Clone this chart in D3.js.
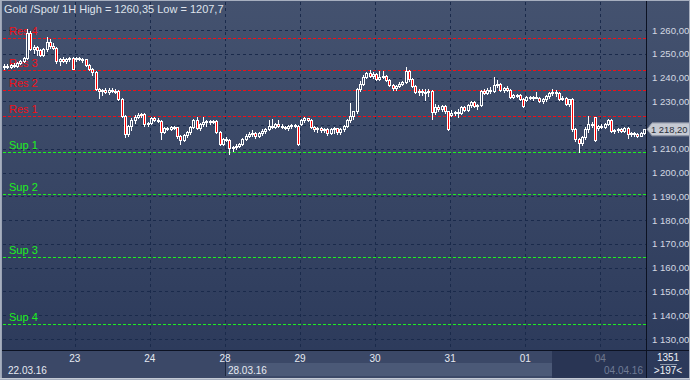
<!DOCTYPE html>
<html><head><meta charset="utf-8">
<script src="https://cdn.jsdelivr.net/npm/d3@7"></script>
<style>html,body{margin:0;padding:0;background:#2f3d5c;overflow:hidden}</style>
</head><body><svg id="c" width="690" height="380"></svg>
<script>
const title = "Gold /Spot/  1H High = 1260,35 Low = 1207,7";
const days = ["22","23","24","28","29","30","31","01","04"];
const dayStart = [0,22,45,68,91,114,137,160,183];
const bottomDates = ["22.03.16","28.03.16","04.04.16"];
const bottomDateStart = [0,68,183];
const priceTicks = [1260,1250,1240,1230,1220,1210,1200,1190,1180,1170,1160,1150,1140,1130];
const levelNames = ["Res 4","Res 3","Res 2","Res 1","Sup 1","Sup 2","Sup 3","Sup 4"];
const levelValues = [1256.5,1243.0,1234.6,1223.7,1208.5,1190.9,1164.4,1136.2];
const lastPrice = 1218.20;
const barCountTotal = "1351";
const barCountVisible = ">197<";
// [open, high, low, close] per 1H candle
const ohlc = [
[1244.6,1245.6,1243.8,1245.0],[1245.0,1245.9,1244.0,1244.4],[1244.4,1245.7,1243.9,1245.2],[1245.2,1246.0,1244.4,1244.9],
[1244.9,1246.6,1244.4,1246.2],[1246.2,1247.4,1245.6,1247.0],[1247.0,1248.8,1246.6,1248.4],[1248.4,1260.35,1248.0,1258.6],
[1258.6,1259.4,1251.6,1252.2],[1252.2,1253.6,1250.2,1252.8],[1252.8,1253.4,1249.6,1251.6],[1251.6,1252.0,1249.0,1249.6],
[1249.6,1252.4,1249.2,1251.8],[1251.8,1257.0,1251.2,1254.8],[1254.8,1256.2,1252.6,1253.4],[1253.4,1254.6,1252.0,1252.6],
[1252.6,1253.0,1246.2,1246.8],[1246.8,1248.4,1245.4,1247.8],[1247.8,1248.6,1246.4,1246.9],[1246.9,1248.2,1246.2,1247.6],
[1247.6,1248.8,1246.8,1248.2],[1248.2,1248.6,1243.4,1243.8],
[1247.6,1248.6,1247.0,1248.2],[1248.2,1248.8,1247.2,1247.6],[1247.6,1248.4,1246.6,1247.8],[1247.8,1248.0,1245.0,1245.4],
[1245.4,1245.8,1243.2,1243.6],[1243.6,1244.0,1241.0,1242.2],[1242.2,1242.7,1234.6,1235.0],[1235.0,1235.8,1231.4,1234.2],
[1234.2,1235.3,1232.8,1234.8],[1234.8,1235.6,1233.4,1234.0],[1234.0,1235.4,1233.0,1234.8],[1234.8,1235.4,1233.8,1234.4],
[1234.4,1235.0,1233.6,1234.2],[1234.2,1234.6,1230.6,1231.0],[1231.0,1231.2,1223.4,1224.0],[1224.0,1224.4,1215.0,1216.4],
[1216.4,1220.0,1215.2,1219.6],[1219.6,1222.8,1218.0,1222.2],[1222.2,1224.2,1220.8,1223.6],[1223.6,1225.0,1223.0,1224.4],
[1224.4,1225.2,1223.6,1224.8],[1224.8,1225.0,1219.8,1220.4],[1220.4,1221.2,1219.6,1220.8],
[1220.8,1223.4,1220.4,1222.8],[1222.8,1223.6,1221.6,1222.2],[1222.2,1223.0,1221.2,1221.8],[1221.8,1222.0,1214.3,1217.2],
[1217.2,1219.2,1216.6,1218.6],[1218.6,1219.0,1217.8,1218.2],[1218.2,1219.8,1217.8,1219.4],[1219.4,1219.8,1218.4,1219.0],
[1219.0,1219.4,1214.6,1215.2],[1215.2,1215.8,1212.2,1213.8],[1213.8,1216.4,1213.2,1215.8],[1215.8,1217.4,1215.0,1217.0],
[1217.0,1219.8,1216.4,1219.2],[1219.2,1222.6,1218.6,1222.0],[1222.0,1223.4,1218.2,1218.6],[1218.6,1221.0,1218.0,1220.6],
[1220.6,1223.4,1219.6,1221.2],[1221.2,1222.0,1219.8,1221.6],[1221.6,1222.0,1220.6,1221.4],[1221.4,1222.2,1220.8,1221.6],
[1221.6,1222.0,1216.6,1217.2],[1217.2,1217.6,1211.8,1212.2],[1212.2,1214.6,1211.6,1214.0],
[1214.0,1214.8,1213.2,1213.8],[1213.8,1214.2,1207.7,1210.2],[1210.2,1211.0,1209.2,1210.6],[1210.6,1212.0,1210.0,1211.4],
[1211.4,1212.6,1210.8,1212.2],[1212.2,1214.6,1211.6,1214.2],[1214.2,1216.2,1213.6,1215.6],[1215.6,1217.0,1214.8,1216.4],
[1216.4,1218.0,1215.6,1216.8],[1216.8,1217.2,1214.6,1215.2],[1215.2,1217.2,1214.8,1216.8],[1216.8,1218.2,1216.0,1217.6],
[1217.6,1218.8,1216.8,1218.4],[1218.4,1222.2,1217.8,1219.8],[1219.8,1222.6,1218.8,1219.4],[1219.4,1220.8,1218.6,1220.4],
[1220.4,1222.0,1219.4,1219.8],[1219.8,1220.6,1218.8,1219.4],[1219.4,1219.6,1218.2,1218.6],[1218.6,1220.2,1218.0,1219.6],
[1219.6,1220.4,1218.8,1220.0],[1220.0,1220.6,1219.2,1219.8],[1219.8,1220.2,1211.6,1212.0],
[1220.6,1222.4,1220.2,1222.0],[1222.0,1223.2,1221.4,1222.8],[1222.8,1223.0,1221.6,1222.0],[1222.0,1222.4,1218.6,1219.0],
[1219.0,1219.6,1217.6,1218.2],[1218.2,1219.0,1217.2,1218.6],[1218.6,1219.2,1217.2,1217.8],[1217.8,1218.8,1217.0,1218.4],
[1218.4,1218.8,1215.8,1216.8],[1216.8,1218.6,1216.2,1218.2],[1218.2,1219.4,1216.6,1218.6],[1218.6,1218.8,1216.2,1217.0],
[1217.0,1218.6,1216.4,1218.2],[1218.2,1220.0,1217.6,1219.6],[1219.6,1222.6,1219.0,1222.2],[1222.2,1229.3,1221.4,1224.0],
[1224.0,1226.0,1222.6,1225.8],[1225.8,1235.8,1225.2,1235.2],[1235.2,1238.4,1234.2,1237.4],[1237.4,1241.0,1236.8,1240.4],
[1240.4,1242.4,1239.6,1241.8],[1241.8,1243.0,1240.2,1240.6],[1240.6,1242.2,1239.8,1241.6],
[1241.6,1242.0,1239.0,1239.4],[1239.4,1242.6,1239.0,1240.2],[1240.2,1242.8,1239.6,1240.6],[1240.6,1241.0,1238.4,1239.0],
[1239.0,1239.4,1236.6,1237.0],[1237.0,1237.4,1234.8,1235.4],[1235.4,1237.0,1234.8,1236.4],[1236.4,1238.0,1236.0,1237.4],
[1237.4,1238.6,1236.8,1238.2],[1238.2,1244.4,1237.8,1242.6],[1242.6,1243.2,1238.6,1239.2],[1239.2,1239.8,1236.0,1236.6],
[1236.6,1237.0,1233.4,1233.8],[1233.8,1235.2,1232.8,1234.4],[1234.4,1235.2,1232.6,1233.8],[1233.8,1235.0,1230.6,1234.0],
[1234.0,1235.0,1232.4,1234.4],[1234.4,1234.8,1222.7,1225.6],[1225.6,1229.0,1224.6,1227.8],[1227.8,1228.4,1225.8,1226.6],
[1226.6,1228.6,1226.0,1228.2],[1228.2,1228.6,1225.2,1225.8],[1225.8,1226.0,1217.8,1218.4],
[1224.4,1226.4,1224.0,1225.2],[1225.2,1226.0,1224.2,1225.6],[1225.6,1226.8,1223.4,1225.2],[1225.2,1228.0,1224.8,1227.6],
[1227.6,1228.0,1225.8,1226.2],[1226.2,1228.8,1225.8,1228.4],[1228.4,1230.2,1227.8,1229.6],[1229.6,1230.0,1227.4,1228.0],
[1228.0,1229.0,1226.6,1228.4],[1228.4,1234.8,1228.0,1234.2],[1234.2,1235.0,1233.0,1233.6],[1233.6,1235.4,1233.0,1234.8],
[1234.8,1236.0,1233.6,1234.4],[1234.4,1240.2,1234.0,1237.0],[1237.0,1238.8,1236.2,1237.4],[1237.4,1237.8,1234.2,1234.6],
[1234.6,1236.2,1233.8,1235.6],[1235.6,1236.4,1234.2,1234.8],[1234.8,1235.2,1231.6,1232.0],[1232.0,1233.0,1231.2,1232.6],
[1232.6,1233.2,1231.8,1232.8],[1232.8,1233.0,1230.6,1231.0],[1231.0,1231.4,1227.6,1228.0],
[1230.6,1232.2,1230.2,1231.8],[1231.8,1232.4,1230.8,1231.2],[1231.2,1232.4,1230.6,1232.0],[1232.0,1234.0,1231.4,1231.6],
[1231.6,1232.0,1229.6,1230.0],[1230.0,1231.2,1229.4,1230.8],[1230.8,1232.6,1230.2,1232.2],[1232.2,1234.0,1231.6,1233.6],
[1233.6,1235.3,1232.8,1234.0],[1234.0,1234.6,1232.4,1233.6],[1233.6,1234.0,1230.6,1231.0],[1231.0,1232.2,1230.4,1231.6],
[1231.6,1232.0,1228.4,1228.8],[1228.8,1231.0,1228.2,1230.8],[1230.8,1231.2,1217.6,1218.2],[1218.2,1218.6,1213.4,1214.0],
[1214.0,1214.4,1208.7,1212.4],[1212.4,1215.2,1211.8,1214.8],[1214.8,1219.0,1214.0,1218.4],[1218.4,1223.7,1217.0,1220.4],
[1220.4,1221.2,1219.2,1220.0],[1223.2,1223.4,1213.2,1213.6],[1218.6,1220.2,1218.0,1219.6],
[1219.6,1220.6,1218.6,1219.2],[1219.2,1220.8,1218.6,1220.4],[1220.4,1222.4,1220.0,1222.0],[1222.0,1222.4,1217.2,1217.6],
[1217.6,1218.4,1216.8,1218.0],[1218.0,1218.8,1217.0,1218.4],[1218.4,1218.8,1217.2,1217.6],[1217.6,1219.0,1217.0,1218.8],
[1218.8,1219.2,1214.4,1216.2],[1216.2,1217.0,1215.6,1216.6],[1216.6,1217.2,1215.2,1216.2],[1216.2,1216.8,1215.0,1215.6],
[1215.6,1217.0,1215.2,1216.6],[1216.6,1218.4,1216.2,1218.2]
];

const W = 690, H = 380;
const plotL = 3, plotR = 646, plotT = 2, plotB = 350;
const svg = d3.select("#c");
const defs = svg.append("defs");
const g1 = defs.append("linearGradient").attr("id","bg").attr("x1",0).attr("y1",0).attr("x2",0).attr("y2",1);
g1.append("stop").attr("offset","0%").attr("stop-color","#44526f");
g1.append("stop").attr("offset","100%").attr("stop-color","#2b395a");
defs.append("clipPath").attr("id","plotclip").append("rect")
  .attr("x",plotL).attr("y",plotT).attr("width",plotR-plotL).attr("height",plotB-plotT);

svg.append("rect").attr("width",W).attr("height",H).attr("fill","url(#bg)");

const x = d3.scaleLinear().domain([0, ohlc.length]).range([plotL, plotR]);
const y = d3.scaleLinear().domain([1130, 1260]).range([339, 30]);
const crisp = v => Math.round(v) + 0.5;
const font = "'Liberation Sans', Arial, sans-serif";

const plot = svg.append("g").attr("clip-path","url(#plotclip)");

// grid
plot.selectAll("line.hg").data(priceTicks).join("line")
  .attr("x1",plotL).attr("x2",plotR)
  .attr("y1",d=>crisp(y(d))).attr("y2",d=>crisp(y(d)))
  .attr("stroke","#1a2a4b").attr("stroke-dasharray","3,3");
plot.selectAll("line.vg").data(dayStart.slice(1)).join("line")
  .attr("x1",d=>crisp(x(d))).attr("x2",d=>crisp(x(d)))
  .attr("y1",plotT).attr("y2",plotB)
  .attr("stroke","#1a2a4b").attr("stroke-dasharray","3,3");

// levels
const lvlColor = n => n.startsWith("Res") ? "#f01018" : "#1ef01e";
levelValues.forEach((v,k)=>{
  const ly = crisp(y(v));
  plot.append("line").attr("x1",plotL).attr("x2",plotR).attr("y1",ly).attr("y2",ly)
    .attr("stroke",lvlColor(levelNames[k])).attr("stroke-dasharray","3,2");
  plot.append("text").attr("x",9).attr("y",ly-4).text(levelNames[k])
    .attr("fill",lvlColor(levelNames[k])).attr("font-family",font).attr("font-size","11px");
});

// candles
const cg = plot.append("g");
ohlc.forEach((d,i)=>{
  const [o,h,l,c] = d;
  const cx = x(i+0.5);
  const left = Math.round(cx - 1.5);
  const wx = left + 1.5;
  cg.append("line").attr("x1",wx).attr("x2",wx)
    .attr("y1",Math.round(y(h))).attr("y2",Math.round(y(l))+1)
    .attr("stroke","#ffffff").attr("stroke-width",1);
  const top = Math.round(y(Math.max(o,c))), bot = Math.round(y(Math.min(o,c)));
  const hh = Math.max(1, bot - top);
  cg.append("rect").attr("x",left+0.5).attr("y",top+0.5).attr("width",2).attr("height",hh)
    .attr("fill", c < o ? "#ff0000" : "#34425f")
    .attr("stroke","#ffffff").attr("stroke-width",1);
});

// title
svg.append("text").attr("x",4).attr("y",13).text(title)
  .attr("fill","#dfe3ec").attr("font-family",font).attr("font-size","11px");

// separators
svg.append("line").attr("x1",plotR+0.5).attr("x2",plotR+0.5).attr("y1",0).attr("y2",H)
  .attr("stroke","#0c1222");
svg.append("line").attr("x1",0).attr("x2",W).attr("y1",plotB+0.5).attr("y2",plotB+0.5)
  .attr("stroke","#0c1222");

// price axis labels
const fmt = v => { const s = v.toFixed(2).replace(".", ","); return s.slice(0,1) + " " + s.slice(1); };
svg.selectAll("text.pl").data(priceTicks).join("text")
  .attr("x",652).attr("y",d=>y(d)+3.5).text(fmt)
  .attr("fill","#d3d8e2").attr("font-family",font).attr("font-size","9.6px");

// last price tag
const ty = y(lastPrice);
svg.append("path")
  .attr("d",`M${plotR+1},${ty} L${plotR+6},${ty-6.5} L${W},${ty-6.5} L${W},${ty+6.5} L${plotR+6},${ty+6.5} Z`)
  .attr("fill","#c6cad3").attr("stroke","#8a92a3");
svg.append("text").attr("x",651).attr("y",ty+3.5).text(fmt(lastPrice))
  .attr("fill","#2a2f3a").attr("font-family",font).attr("font-size","9.4px");

// time axis area
svg.append("rect").attr("x",0).attr("y",plotB+1).attr("width",plotR).attr("height",H-plotB-3).attr("fill","#3b4867");
svg.append("rect").attr("x",crisp(x(bottomDateStart[1]))).attr("y",363).attr("width",552-crisp(x(bottomDateStart[1]))).attr("height",13).attr("fill","#4b5977");
svg.append("line").attr("x1",crisp(x(bottomDateStart[1]))).attr("x2",crisp(x(bottomDateStart[1]))).attr("y1",plotB+1).attr("y2",376).attr("stroke","#1c2740");
days.slice(1).forEach((dname,k)=>{
  svg.append("text").attr("x",x(dayStart[k+1])).attr("y",362).attr("text-anchor","middle").text(dname)
    .attr("fill","#e6eaf2").attr("font-family",font).attr("font-size","10px");
});
svg.append("text").attr("x",8).attr("y",374).text(bottomDates[0])
  .attr("fill","#e6eaf2").attr("font-family",font).attr("font-size","10px");
svg.append("text").attr("x",x(bottomDateStart[1])+3).attr("y",374).text(bottomDates[1])
  .attr("fill","#e6eaf2").attr("font-family",font).attr("font-size","10px");
svg.append("rect").attr("x",552).attr("y",plotB+1).attr("width",plotR-552).attr("height",H-plotB-3)
  .attr("fill","#1e2a48").attr("opacity",0.6);
svg.append("text").attr("x",643).attr("y",374).attr("text-anchor","end").text(bottomDates[2])
  .attr("fill","#6f7b96").attr("font-family",font).attr("font-size","10px");

// bottom right box
svg.append("text").attr("x",668).attr("y",361).attr("text-anchor","middle").text(barCountTotal)
  .attr("fill","#eef1f6").attr("font-family",font).attr("font-size","10px");
svg.append("line").attr("x1",660).attr("x2",677).attr("y1",364.5).attr("y2",364.5).attr("stroke","#8d96a8");
svg.append("text").attr("x",668).attr("y",374).attr("text-anchor","middle").text(barCountVisible)
  .attr("fill","#eef1f6").attr("font-family",font).attr("font-size","10px");

// frame
svg.append("rect").attr("x",0).attr("y",0).attr("width",2).attr("height",H).attr("fill","#9aa3b4");
svg.append("rect").attr("x",0.5).attr("y",0.5).attr("width",W-1).attr("height",H-1)
  .attr("fill","none").attr("stroke","#a7afbf");
svg.append("line").attr("x1",0).attr("x2",W).attr("y1",H-1.5).attr("y2",H-1.5).attr("stroke","#c3c9d4");
</script></body></html>
